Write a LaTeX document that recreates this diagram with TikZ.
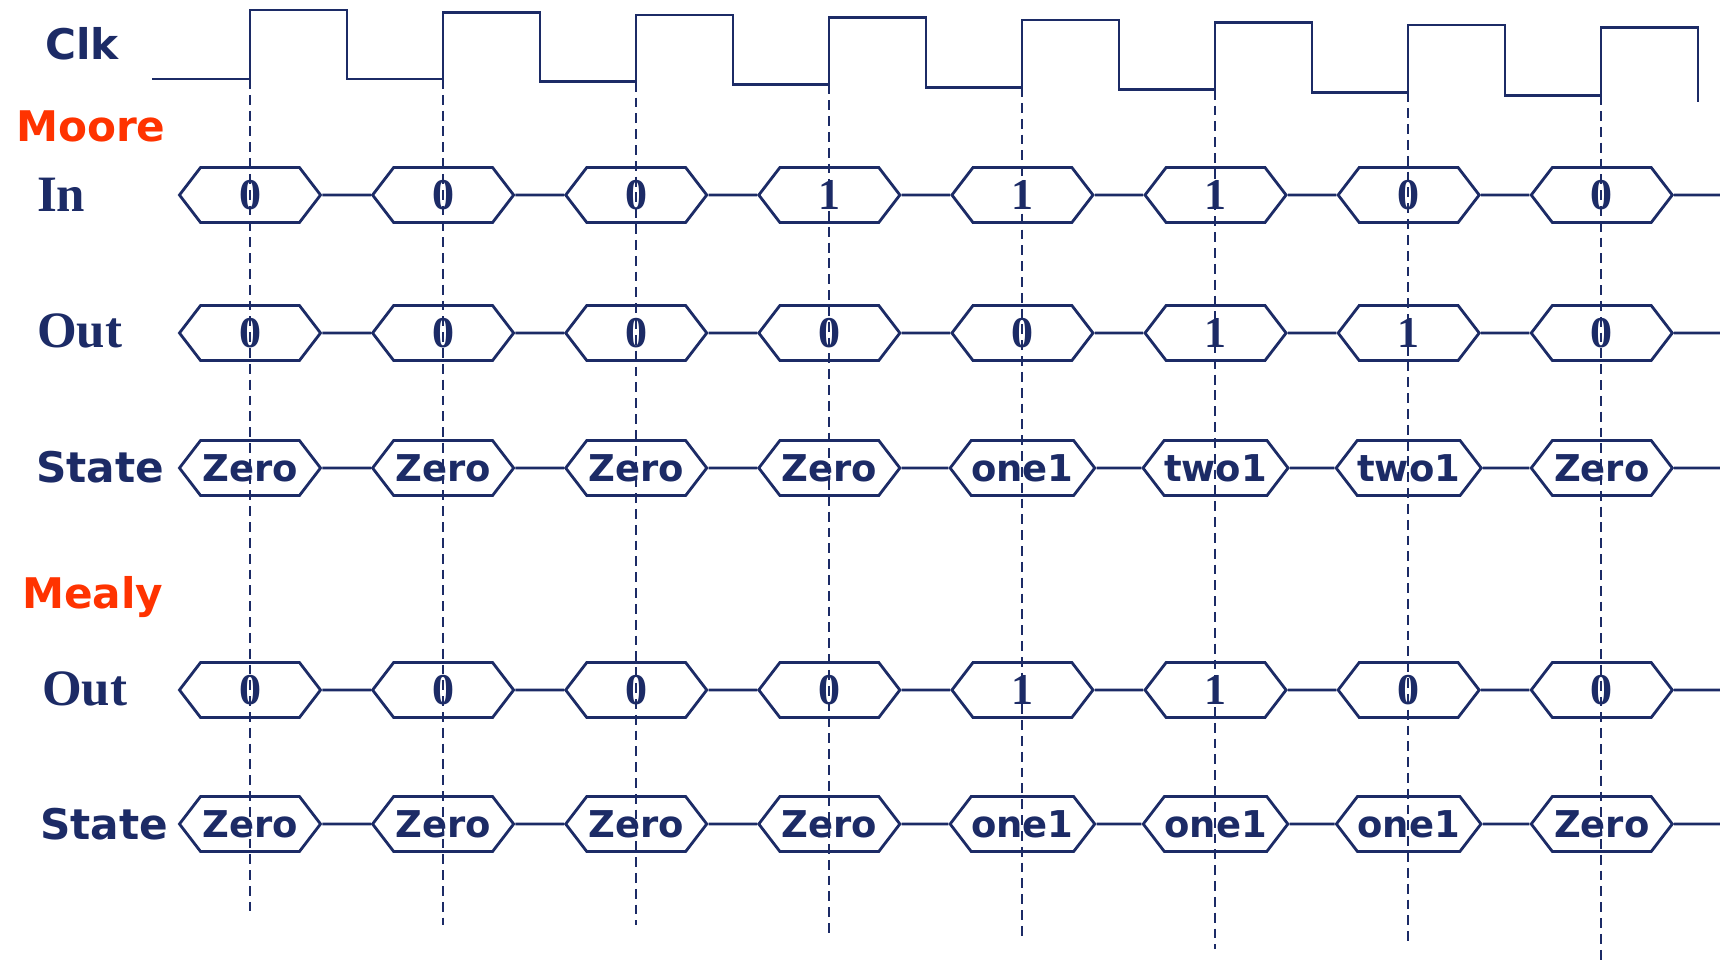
\documentclass[tikz,border=0pt]{standalone}
\usepackage{fontspec}
\setmainfont{Liberation Serif}
\setsansfont{DejaVu Sans}
\usetikzlibrary{shapes.symbols}

\definecolor{wave}{HTML}{1C2B66}
\definecolor{title}{HTML}{FF3300}

\begin{document}
\begin{tikzpicture}[x=0.01cm,y=-0.01cm,node distance=1.93cm,semithick]

    \tikzstyle{every node}=[text=wave]
    \tikzstyle{bus}=[signal,signal to=east and west,signal pointer angle=105,draw=wave,thick,minimum width=1.41cm,minimum height=0.55cm,inner sep=0pt]
    \tikzstyle{bit}=[bus,font=\bfseries\fontsize{12.5}{12}\selectfont]
    \tikzstyle{word}=[bus,font=\sffamily\bfseries\fontsize{10.5}{12}\selectfont]
    \tikzstyle{sig}=[anchor=west,inner sep=0pt,font=\bfseries\fontsize{14.5}{15}\selectfont]
    \tikzstyle{sigsf}=[anchor=west,inner sep=0pt,font=\sffamily\bfseries\fontsize{12}{13}\selectfont]
    \tikzstyle{model}=[sigsf,text=title]
    \tikzstyle{clock}=[draw=wave,thick,line cap=rect]
    \tikzstyle{guide}=[draw=wave,semithick,dash pattern=on 2.8pt off 1.7pt]
    \tikzstyle{wire}=[draw=wave,thick]

    \useasboundingbox (0,0) rectangle (1720,960);

    % labels
    \node[sigsf] (clk)   at (44,44)  {Clk};
    \node[model] (moore) at (15,126) {Moore};
    \node[sig]   (in)    at (36,195) {In};
    \node[sig]   (mout)  at (36,331) {Out};
    \node[sigsf] (mst)   at (35,467) {State};
    \node[model] (mealy) at (21,597) {Mealy};
    \node[sig]   (yout)  at (41,689) {Out};
    \node[sigsf] (yst)   at (39,824) {State};

    % clock
    \foreach \k in {0,...,7} {
        \pgfmathsetmacro\xr{250+193*\k}
        \pgfmathsetmacro\xs{ifthenelse(\k==0,153,\xr-96)}
        \pgfmathsetmacro\xf{\xr+97}
        \pgfmathsetmacro\yp{ifthenelse(\k==0,79,76.3+2.7*\k)}
        \pgfmathsetmacro\yh{10+2.5*\k}
        \pgfmathsetmacro\yl{ifthenelse(\k==7,101,79+2.7*\k)}
        \draw[clock] (\xs,\yp) -- (\xr,\yp) coordinate (rise\k) -- (\xr,\yh) -- (\xf,\yh) -- (\xf,\yl);
    }

    % Moore: In
    \node[bit] (i1) at (250,195) {0};
    \node[bit] (i2) [right of=i1] {0};
    \node[bit] (i3) [right of=i2] {0};
    \node[bit] (i4) [right of=i3] {1};
    \node[bit] (i5) [right of=i4] {1};
    \node[bit] (i6) [right of=i5] {1};
    \node[bit] (i7) [right of=i6] {0};
    \node[bit] (i8) [right of=i7] {0};
    \coordinate (ie) at (1720,195);

    % Moore: Out
    \node[bit] (mo1) at (250,333) {0};
    \node[bit] (mo2) [right of=mo1] {0};
    \node[bit] (mo3) [right of=mo2] {0};
    \node[bit] (mo4) [right of=mo3] {0};
    \node[bit] (mo5) [right of=mo4] {0};
    \node[bit] (mo6) [right of=mo5] {1};
    \node[bit] (mo7) [right of=mo6] {1};
    \node[bit] (mo8) [right of=mo7] {0};
    \coordinate (moe) at (1720,333);

    % Moore: State
    \node[word] (ms1) at (250,468) {Zero};
    \node[word] (ms2) [right of=ms1] {Zero};
    \node[word] (ms3) [right of=ms2] {Zero};
    \node[word] (ms4) [right of=ms3] {Zero};
    \node[word] (ms5) [right of=ms4] {one1};
    \node[word] (ms6) [right of=ms5] {two1};
    \node[word] (ms7) [right of=ms6] {two1};
    \node[word] (ms8) [right of=ms7] {Zero};
    \coordinate (mse) at (1720,468);

    % Mealy: Out
    \node[bit] (yo1) at (250,690) {0};
    \node[bit] (yo2) [right of=yo1] {0};
    \node[bit] (yo3) [right of=yo2] {0};
    \node[bit] (yo4) [right of=yo3] {0};
    \node[bit] (yo5) [right of=yo4] {1};
    \node[bit] (yo6) [right of=yo5] {1};
    \node[bit] (yo7) [right of=yo6] {0};
    \node[bit] (yo8) [right of=yo7] {0};
    \coordinate (yoe) at (1720,690);

    % Mealy: State
    \node[word] (ys1) at (250,824) {Zero};
    \node[word] (ys2) [right of=ys1] {Zero};
    \node[word] (ys3) [right of=ys2] {Zero};
    \node[word] (ys4) [right of=ys3] {Zero};
    \node[word] (ys5) [right of=ys4] {one1};
    \node[word] (ys6) [right of=ys5] {one1};
    \node[word] (ys7) [right of=ys6] {one1};
    \node[word] (ys8) [right of=ys7] {Zero};
    \coordinate (yse) at (1720,824);

    \draw[wire] (i1) -- (i2) -- (i3) -- (i4) -- (i5) -- (i6) -- (i7) -- (i8) -- (ie);
    \draw[wire] (mo1) -- (mo2) -- (mo3) -- (mo4) -- (mo5) -- (mo6) -- (mo7) -- (mo8) -- (moe);
    \draw[wire] (ms1) -- (ms2) -- (ms3) -- (ms4) -- (ms5) -- (ms6) -- (ms7) -- (ms8) -- (mse);
    \draw[wire] (yo1) -- (yo2) -- (yo3) -- (yo4) -- (yo5) -- (yo6) -- (yo7) -- (yo8) -- (yoe);
    \draw[wire] (ys1) -- (ys2) -- (ys3) -- (ys4) -- (ys5) -- (ys6) -- (ys7) -- (ys8) -- (yse);

    % sampling edges
    \foreach \k/\yb in {0/911,1/925,2/925,3/938,4/936,5/949,6/946,7/960} {
        \draw[guide] (rise\k) -- (rise\k |- 0,\yb) coordinate (fall\k);
    }

\end{tikzpicture}
\end{document}
